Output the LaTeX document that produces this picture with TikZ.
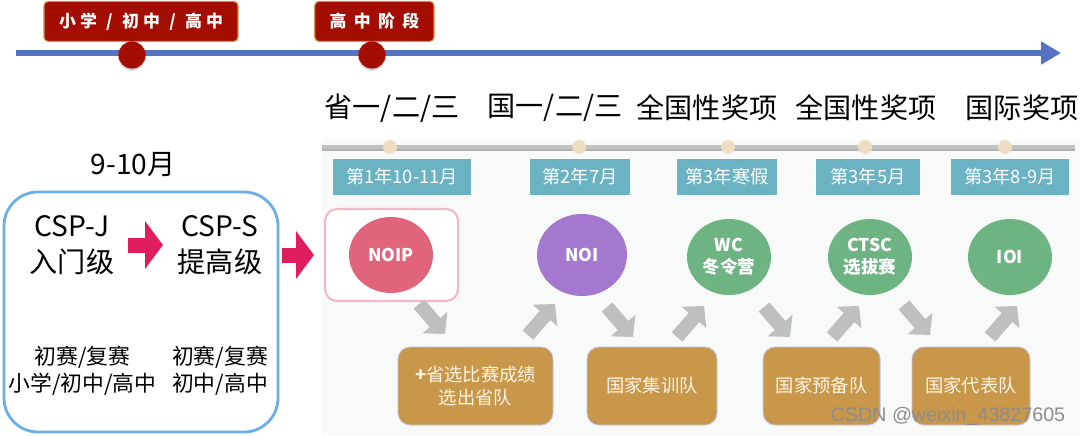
\documentclass[tikz,border=0pt]{standalone}
\usepackage{fontspec}
\setmainfont{Noto Sans CJK SC}
\newfontfamily\markfont{Liberation Sans}
\newcommand{\tsp}{\hspace{0.25em}}
\newcommand{\tslash}{\hspace{0.55em}/\hspace{0.55em}}
\newcommand{\twide}{\hspace{0.44em}}
\usetikzlibrary{arrows.meta,positioning,shapes.geometric,shadows}
\definecolor{lineblue}{HTML}{5673C3}
\definecolor{tagred}{HTML}{A30D02}
\definecolor{taggold}{HTML}{C49A3C}
\definecolor{bargray}{HTML}{C2C2C2}
\definecolor{dotbeige}{HTML}{EEDDC2}
\definecolor{dateteal}{HTML}{6BB2C3}
\definecolor{noipred}{HTML}{E0647A}
\definecolor{noipink}{HTML}{F3B8C5}
\definecolor{noipurple}{HTML}{A478CE}
\definecolor{contgreen}{HTML}{6EB482}
\definecolor{teambrown}{HTML}{C8974A}
\definecolor{teamedge}{HTML}{BFC3E6}
\definecolor{teamtext}{HTML}{FFF5E3}
\definecolor{arrgray}{HTML}{BFBFBF}
\definecolor{csppink}{HTML}{E01E5F}
\definecolor{cspblue}{HTML}{6AAFEA}
\definecolor{panel}{HTML}{F8F9F9}

\begin{document}
\begin{tikzpicture}[
  tag/.style={draw=taggold, line width=0.8pt, fill=tagred, rounded corners=3pt,
    minimum height=1.0cm, text=white, font=\bfseries\fontsize{12}{13}\selectfont},
  stop/.style={circle, fill=tagred, minimum size=0.68cm, inner sep=0pt,
    drop shadow={shadow xshift=0pt, shadow yshift=-1.5pt, opacity=0.35}},
  award/.style={font=\fontsize{20}{24}\selectfont},
  bead/.style={circle, fill=dotbeige, minimum size=0.35cm, inner sep=0pt},
  date/.style={fill=dateteal, minimum height=0.9cm, inner sep=2pt, text=white,
    font=\fontsize{13}{15}\selectfont},
  contest/.style={ellipse, minimum width=2.1cm, minimum height=1.9cm, inner sep=0pt,
    align=center, text=white, font=\bfseries\fontsize{12.5}{16}\selectfont},
  team/.style={draw=teamedge, line width=0.6pt, fill=teambrown, rounded corners=0.3cm,
    minimum height=1.95cm, align=center, text=teamtext, font=\fontsize{13}{17}\selectfont},
  cspname/.style={align=center, font=\fontsize{20}{26}\selectfont},
  cspnote/.style={align=center, font=\fontsize{15.5}{19}\selectfont},
  garr/.style={arrgray, line width=0.35cm, -{Triangle[length=0.38cm, width=0.8cm]}},
  parr/.style={csppink, line width=0.375cm, -{Triangle[length=0.45cm, width=1.175cm]}}
]
  \useasboundingbox (0,0) rectangle (27,10.875);
  \fill[panel] (8.05,0) rectangle (27,7.375);

  \draw[line width=0.15cm, lineblue, -{Triangle[length=0.5cm, width=0.55cm]}]
    (0.4,9.55) -- (26.525,9.55);
  \node[tag, minimum width=4.85cm] (tagA) at (3.525,10.34)
    {小\tsp 学\tslash 初\tsp 中\tslash 高\tsp 中};
  \node[tag, minimum width=2.98cm] (tagB) at (9.36,10.34)
    {高\twide 中\twide 阶\twide 段};
  \node[stop] (dotA) at (3.3,9.5) {};
  \node[stop] (dotB) at (9.3,9.5) {};

  \node[award] (awprov) at (9.8,8.175)   {省一/二/三};
  \node[award] (awnatl) at (13.875,8.175) {国一/二/三};
  \node[award] (awwc)   at (17.675,8.175) {全国性奖项};
  \node[award] (awctsc) at (21.65,8.175) {全国性奖项};
  \node[award] (awioi)  at (25.55,8.175) {国际奖项};

  \draw[line width=0.12cm, black!30] (8.05,7.15) -- (26.875,7.15);
  \draw[line width=0.1cm, bargray] (8.05,7.19) -- (26.875,7.19);
  \node[bead] (b1) at (9.75,7.2) {};
  \node[bead] (b2) at (14.475,7.2) {};
  \node[bead] (b3) at (18.2,7.2) {};
  \node[bead] (b4) at (21.625,7.2) {};
  \node[bead] (b5) at (25.125,7.2) {};

  \node[date, minimum width=3.45cm] (d1) at (10.05,6.45) {第1年10-11月};
  \node[date, minimum width=2.5cm]  (d2) at (14.5,6.45)  {第2年7月};
  \node[date, minimum width=2.5cm]  (d3) at (18.175,6.45) {第3年寒假};
  \node[date, minimum width=2.6cm]  (d4) at (21.7,6.45)  {第3年5月};
  \node[date, minimum width=2.95cm] (d5) at (25.25,6.45) {第3年8-9月};

  \node[draw=noipink, fill=white, line width=1.5pt, rounded corners=0.3cm,
    minimum width=3.325cm, minimum height=2.3cm] (noipbox) at (9.79,4.5) {};
  \node[contest, fill=noipred] (noip) at (9.775,4.5) {NOIP};
  \node[contest, fill=noipurple, minimum width=2.25cm, minimum height=2.05cm]
    (noi) at (14.55,4.5) {NOI};
  \node[contest, fill=contgreen] (wc)   at (18.225,4.45) {WC\\冬令营};
  \node[contest, fill=contgreen] (ctsc) at (21.75,4.45) {CTSC\\选拔赛};
  \node[contest, fill=contgreen] (ioi)  at (25.25,4.45) {IOI};

  \node[team, minimum width=3.875cm] (provteam) at (11.8875,1.225)
    {\textbf{+}省选比赛成绩\\选出省队};
  \node[team, minimum width=3.25cm]  (trainteam)   at (16.3,1.225)   {国家集训队};
  \node[team, minimum width=2.925cm] (reserveteam) at (20.54,1.225)  {国家预备队};
  \node[team, minimum width=2.95cm]  (natteam)     at (24.275,1.225) {国家代表队};

  \coordinate (g1s) at (10.475,3.275); \coordinate (g1e) at (11.125,2.525);
  \coordinate (g2s) at (13.2,2.5);     \coordinate (g2e) at (13.875,3.275);
  \coordinate (g3s) at (15.175,3.2);   \coordinate (g3e) at (15.825,2.45);
  \coordinate (g4s) at (16.925,2.45);  \coordinate (g4e) at (17.6,3.225);
  \coordinate (g5s) at (19.1,3.2);     \coordinate (g5e) at (19.75,2.45);
  \coordinate (g6s) at (20.8,2.45);    \coordinate (g6e) at (21.475,3.225);
  \coordinate (g7s) at (22.6,3.25);    \coordinate (g7e) at (23.25,2.5);
  \coordinate (g8s) at (24.75,2.45);   \coordinate (g8e) at (25.425,3.225);
  \draw[garr] (g1s) -- (g1e);
  \draw[garr] (g2s) -- (g2e);
  \draw[garr] (g3s) -- (g3e);
  \draw[garr] (g4s) -- (g4e);
  \draw[garr] (g5s) -- (g5e);
  \draw[garr] (g6s) -- (g6e);
  \draw[garr] (g7s) -- (g7e);
  \draw[garr] (g8s) -- (g8e);

  \node[font=\fontsize{20}{24}\selectfont] (month) at (3.325,6.75) {9-10月};
  \node[draw=cspblue, line width=2pt, rounded corners=0.85cm,
    minimum width=6.85cm, minimum height=6cm] (cspbox) at (3.525,3.075) {};
  \node[cspname] (cspj) at (1.8,4.75) {CSP-J\\入门级};
  \node[cspname] (csps) at (5.5,4.75) {CSP-S\\提高级};
  \node[cspnote] (jnote) at (2.06,1.6) {初赛/复赛\\小学/初中/高中};
  \node[cspnote] (snote) at (5.5,1.6) {初赛/复赛\\初中/高中};

  \draw[parr, shorten <=1.4cm, shorten >=1.425cm] (cspj.center) -- (csps.center);
  \draw[parr, shorten <=0.075cm, shorten >=0.25cm] (cspbox.east |- noipbox.west) -- (noipbox.west);

  \node[font=\markfont\fontsize{14}{16}\selectfont, text=black!45] (mark)
    at (23.7,0.475) {CSDN @weixin\_43827605};
\end{tikzpicture}
\end{document}
